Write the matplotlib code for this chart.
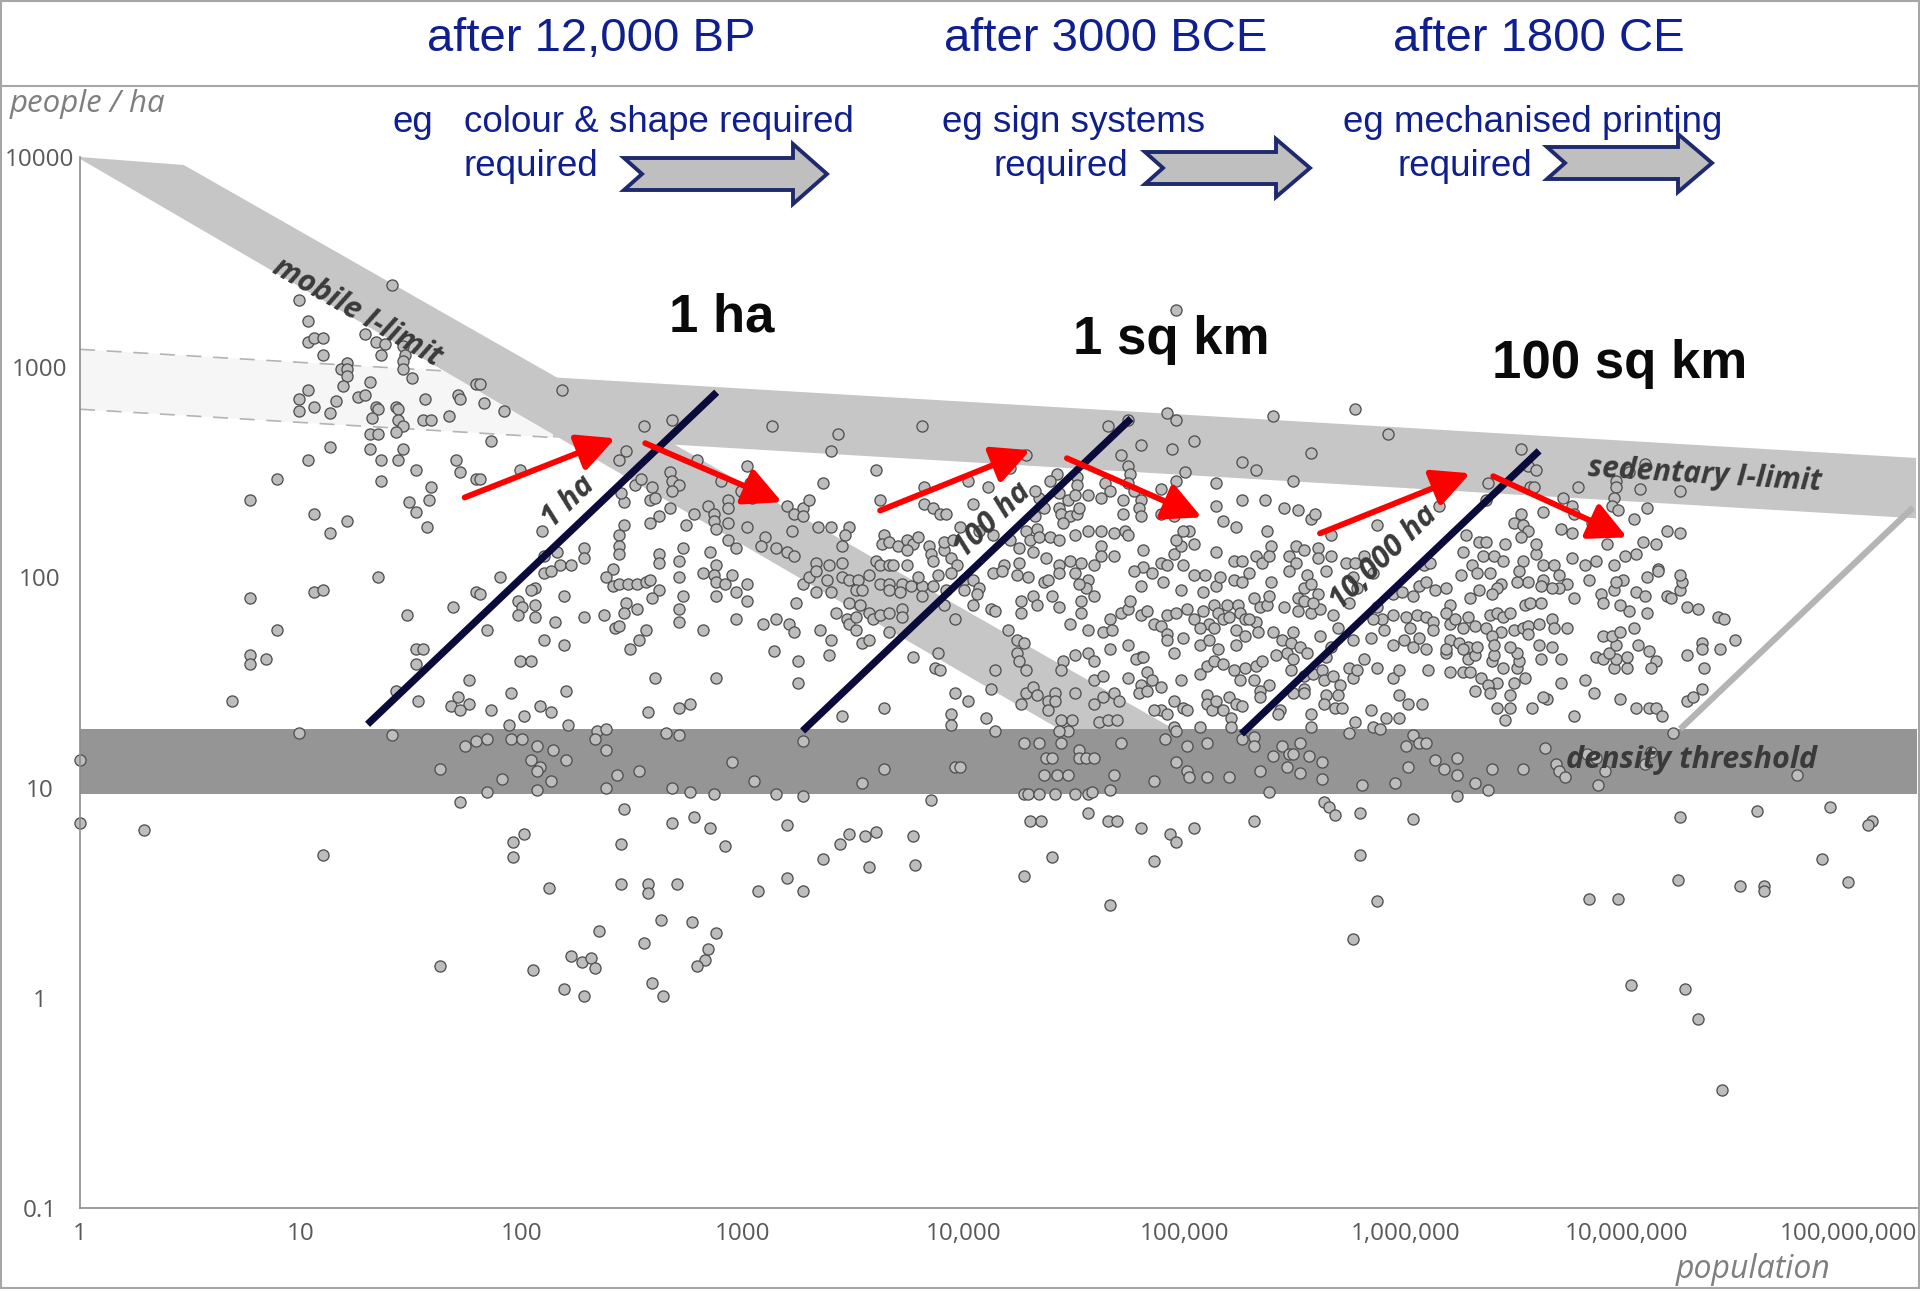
import numpy as np
import matplotlib
matplotlib.use("Agg")
import matplotlib.pyplot as plt
from matplotlib.patches import Polygon
from matplotlib.lines import Line2D
from matplotlib.ticker import NullLocator

W, H = 1920, 1292

# sites as (log10 population, log10 people per ha)
small_sites = [
    (0.99, 3.32), (1.41, 3.39), (1.03, 3.22), (1.03, 3.12), (1.06, 3.14), (1.10, 3.14), (1.10, 3.06),
    (1.29, 3.16), (1.34, 3.12), (1.38, 3.11), (1.36, 3.06), (1.46, 3.10), (1.47, 3.06), (1.46, 3.03),
    (1.46, 2.99), (1.50, 2.95), (1.21, 3.02), (1.18, 2.99), (1.21, 2.99), (1.21, 2.96), (1.19, 2.91),
    (1.31, 2.93), (1.26, 2.86), (1.29, 2.87), (1.03, 2.89), (0.99, 2.85), (1.06, 2.81), (1.16, 2.84),
    (0.99, 2.79), (1.13, 2.78), (1.34, 2.81), (1.35, 2.80), (1.43, 2.81), (1.44, 2.80), (1.32, 2.76),
    (1.44, 2.75), (1.46, 2.72), (1.43, 2.69), (1.31, 2.68), (1.35, 2.68), (1.56, 2.85), (1.55, 2.75),
    (1.59, 2.75), (1.67, 2.77), (1.71, 2.87), (1.72, 2.85), (1.79, 2.92), (1.13, 2.62), (1.31, 2.61),
    (1.46, 2.61), (1.03, 2.56), (1.36, 2.56), (1.44, 2.56), (1.52, 2.51), (1.70, 2.56), (1.72, 2.50),
    (1.79, 2.47), (0.89, 2.47), (1.36, 2.46), (1.59, 2.43), (0.77, 2.37), (1.49, 2.36), (1.58, 2.37),
    (1.06, 2.30), (1.52, 2.31), (1.21, 2.27), (1.13, 2.21), (1.57, 2.24),
    (1.35, 2.00), (0.77, 1.90), (1.06, 1.93), (1.10, 1.94), (1.79, 1.93), (1.69, 1.86), (1.48, 1.82),
    (0.89, 1.75), (0.77, 1.63), (0.77, 1.59), (0.84, 1.61), (1.52, 1.66), (1.55, 1.66), (1.52, 1.59),
    (1.76, 1.51), (1.43, 1.46), (1.53, 1.41), (1.71, 1.43), (1.68, 1.39), (1.76, 1.40), (1.72, 1.37),
    (0.69, 1.41), (0.99, 1.26), (1.41, 1.25), (1.74, 1.20), (1.79, 1.22), (0.00, 1.13), (1.63, 1.09),
    (1.72, 0.93), (0.00, 0.83), (0.29, 0.80), (1.10, 0.68), (1.63, 0.15),
]

village_sites = [
    (1.81, 2.92), (1.83, 2.83), (1.92, 2.79), (2.18, 2.89), (1.86, 2.65), (1.99, 2.51), (1.81, 2.47),
    (2.09, 2.22), (2.16, 2.12), (2.17, 2.06), (2.10, 2.10), (2.22, 2.06), (2.28, 2.14), (2.28, 2.09),
    (2.41, 2.04), (2.44, 2.20), (2.44, 2.15), (2.44, 2.11), (2.46, 2.25), (2.46, 2.36), (2.45, 2.40),
    (2.51, 2.44), (2.54, 2.47), (2.55, 2.72), (2.68, 2.75), (2.47, 2.60), (2.44, 2.56), (2.59, 2.43),
    (2.58, 2.37), (2.60, 2.38), (2.67, 2.50), (2.68, 2.46), (2.71, 2.44), (2.68, 2.41), (2.67, 2.33),
    (2.62, 2.29), (2.58, 2.26), (2.62, 2.11), (2.62, 2.07), (2.71, 2.08), (2.73, 2.14), (2.74, 2.25),
    (2.78, 2.30), (2.79, 2.56), (2.84, 2.34), (2.87, 2.30), (2.87, 2.27), (2.88, 2.23), (2.93, 2.37),
    (2.93, 2.33), (2.93, 2.26), (2.93, 2.18), (2.85, 2.12), (2.88, 2.06), (2.97, 2.14), (3.02, 2.24),
    (2.99, 2.41), (3.04, 2.38), (3.03, 2.45), (3.02, 2.53), (2.90, 2.46), (3.10, 2.19), (3.08, 2.15),
    (3.15, 2.14), (3.20, 2.12), (3.23, 2.10), (3.13, 2.72), (3.20, 2.34), (3.23, 2.30), (3.27, 2.33),
    (3.30, 2.37), (3.27, 2.29), (3.22, 2.22), (3.34, 2.24), (3.40, 2.24), (3.48, 2.24), (3.46, 2.20),
    (3.36, 2.45), (3.40, 2.60), (3.43, 2.68), (3.60, 2.51), (3.62, 2.37), (3.81, 2.72), (3.82, 2.43),
    (3.82, 2.35), (3.86, 2.33), (3.89, 2.30), (3.92, 2.30), (3.45, 2.15), (3.45, 2.07), (3.33, 2.07),
    (3.39, 2.06), (3.64, 2.20), (3.63, 2.16), (3.66, 2.17), (3.70, 2.15), (3.74, 2.18), (3.77, 2.16),
    (3.79, 2.19), (3.84, 2.15), (3.74, 2.13), (3.85, 2.11), (3.91, 2.13), (3.91, 2.17), (3.95, 2.18),
    (3.60, 2.08), (3.62, 2.06), (3.66, 2.06), (3.68, 2.06), (3.74, 2.06), (3.86, 2.08), (3.94, 2.09),
    (3.97, 2.06),
    (1.90, 2.00), (2.10, 2.02), (2.13, 2.03), (1.81, 1.92), (2.19, 1.91), (2.06, 1.95), (2.04, 1.94),
    (1.98, 1.89), (2.00, 1.86), (2.06, 1.87), (1.98, 1.82), (2.06, 1.81), (2.15, 1.79), (1.84, 1.75),
    (2.10, 1.70), (2.19, 1.68), (1.99, 1.60), (2.04, 1.60), (2.28, 1.81), (2.37, 1.82), (2.38, 2.00),
    (2.41, 1.96), (2.44, 1.97), (2.48, 1.97), (2.52, 1.97), (2.56, 1.98), (2.58, 1.99), (2.62, 1.94),
    (2.59, 1.90), (2.47, 1.88), (2.46, 1.83), (2.52, 1.85), (2.42, 1.76), (2.44, 1.77), (2.56, 1.75),
    (2.53, 1.70), (2.49, 1.66), (2.60, 1.52), (2.71, 2.00), (2.73, 1.91), (2.71, 1.85), (2.71, 1.79),
    (2.82, 1.75), (2.82, 2.02), (2.87, 2.01), (2.88, 1.98), (2.92, 1.97), (2.95, 2.01), (3.02, 1.97),
    (2.97, 1.93), (3.02, 1.89), (2.88, 1.91), (2.97, 1.80), (3.09, 1.78), (3.15, 1.80), (3.21, 1.78),
    (3.23, 1.74), (3.24, 1.88), (3.27, 1.97), (3.30, 2.00), (3.33, 2.03), (3.33, 1.93), (3.38, 1.99),
    (3.40, 1.93), (3.35, 1.75), (3.40, 1.70), (3.39, 1.63), (3.25, 1.60), (3.25, 1.50), (3.14, 1.65),
    (2.88, 1.52), (3.45, 2.00), (3.48, 1.99), (3.52, 1.99), (3.57, 2.01), (3.51, 1.94), (3.54, 1.94),
    (3.62, 1.97), (3.66, 1.97), (3.72, 1.97), (3.76, 1.96), (3.66, 1.94), (3.71, 1.93), (3.81, 1.96),
    (3.86, 1.96), (3.92, 1.94), (3.81, 1.91), (3.88, 2.01), (3.94, 2.02), (3.79, 2.00), (3.42, 1.83),
    (3.47, 1.80), (3.48, 1.78), (3.51, 1.81), (3.51, 1.75), (3.48, 1.88), (3.53, 1.87), (3.57, 1.83),
    (3.59, 1.80), (3.62, 1.82), (3.66, 1.83), (3.72, 1.85), (3.72, 1.81), (3.54, 1.69), (3.57, 1.70),
    (3.66, 1.74), (3.91, 1.87), (3.96, 1.80), (3.77, 1.62), (3.88, 1.64), (3.87, 1.57), (3.89, 1.56),
    (3.96, 1.45), (3.94, 1.35), (3.94, 1.30), (3.64, 1.38), (3.45, 1.34), (1.95, 1.45), (2.20, 1.46),
    (1.86, 1.37), (2.01, 1.34), (2.08, 1.39), (2.13, 1.36), (1.94, 1.30), (2.21, 1.30), (2.57, 1.36),
    (2.71, 1.38), (2.76, 1.40),
    (1.84, 1.23), (1.95, 1.23), (2.00, 1.23), (2.07, 1.20), (2.14, 1.18), (2.04, 1.13), (2.20, 1.13),
    (2.08, 1.10), (2.07, 1.08), (2.13, 1.03), (2.07, 0.99), (1.91, 1.04), (1.84, 0.98), (2.34, 1.27),
    (2.38, 1.28), (2.33, 1.23), (2.38, 1.18), (2.43, 1.06), (2.53, 1.08), (2.38, 1.00), (2.65, 1.26),
    (2.71, 1.25), (2.68, 1.00), (2.76, 0.98), (2.87, 0.97), (2.95, 1.12), (3.05, 1.03), (3.15, 0.97),
    (3.27, 0.96), (3.27, 1.22), (3.54, 1.02), (3.64, 1.09), (3.96, 1.10),
    (2.46, 0.90), (2.68, 0.83), (2.78, 0.86), (2.85, 0.81), (2.45, 0.73), (2.92, 0.72), (3.20, 0.82),
    (3.48, 0.78), (3.44, 0.73), (3.55, 0.77), (3.60, 0.79), (3.77, 0.77), (3.36, 0.66), (3.57, 0.62),
    (3.78, 0.63), (3.85, 0.94), (2.01, 0.78), (1.96, 0.74), (1.96, 0.67),
    (2.12, 0.52), (2.45, 0.54), (2.57, 0.54), (2.57, 0.50), (2.70, 0.54), (3.07, 0.51), (3.20, 0.57),
    (3.27, 0.51), (2.63, 0.37), (2.77, 0.36), (2.88, 0.31), (2.35, 0.32), (2.55, 0.26), (2.84, 0.23),
    (2.83, 0.18), (2.79, 0.15), (2.22, 0.20), (2.27, 0.17), (2.31, 0.19), (2.33, 0.14), (2.05, 0.13),
    (2.19, 0.04), (2.28, 0.01), (2.59, 0.07), (2.64, 0.01),
]

town_sites = [
    (4.96, 3.27), (4.92, 2.78), (4.96, 2.75), (4.74, 2.75), (4.65, 2.72), (5.40, 2.77), (5.77, 2.80),
    (5.92, 2.68), (4.80, 2.63), (4.94, 2.61), (5.04, 2.65), (4.71, 2.58), (5.57, 2.59), (5.26, 2.55),
    (5.32, 2.51), (4.28, 2.58), (4.21, 2.52), (5.00, 2.50), (4.96, 2.46), (5.49, 2.46), (4.74, 2.53),
    (4.75, 2.49), (4.89, 2.42), (5.14, 2.45), (4.64, 2.45), (4.66, 2.41), (4.62, 2.38), (4.74, 2.45),
    (4.77, 2.41), (4.72, 2.37), (4.80, 2.37), (4.72, 2.30), (4.79, 2.33), (4.80, 2.29), (4.89, 2.30),
    (4.95, 2.29), (4.42, 2.49), (4.39, 2.46), (4.51, 2.48), (4.51, 2.44), (4.43, 2.40), (4.47, 2.37),
    (4.43, 2.33), (4.50, 2.39), (4.56, 2.39), (4.44, 2.30), (4.48, 2.29), (4.45, 2.26), (4.51, 2.30),
    (4.52, 2.33), (4.36, 2.33), (4.34, 2.38), (4.32, 2.41), (4.32, 2.29), (4.33, 2.23), (4.28, 2.22),
    (4.30, 2.18), (4.34, 2.19), (4.39, 2.19), (4.43, 2.18), (4.50, 2.20), (4.56, 2.22), (4.62, 2.22),
    (4.68, 2.21), (4.73, 2.22), (4.74, 2.20), (4.62, 2.15), (4.68, 2.10), (4.81, 2.13), (4.89, 2.07),
    (4.95, 2.11), (4.98, 2.15), (4.96, 2.18), (5.02, 2.22), (5.04, 2.16), (4.99, 2.22), (5.14, 2.34),
    (5.17, 2.27), (5.23, 2.24), (5.26, 2.37), (5.36, 2.37), (5.45, 2.33), (5.51, 2.32), (5.57, 2.28),
    (5.59, 2.30), (5.37, 2.22), (5.66, 2.20), (5.87, 2.25), (5.39, 2.15), (5.50, 2.15), (5.54, 2.13),
    (5.60, 2.14), (5.14, 2.12), (5.22, 2.08), (5.26, 2.08), (5.32, 2.10), (5.35, 2.07), (5.38, 2.10),
    (5.47, 2.10), (5.50, 2.07), (5.60, 2.09), (5.66, 2.10), (5.73, 2.07), (5.77, 2.07), (5.81, 2.10),
    (6.08, 2.06), (6.11, 2.07), (4.04, 2.35), (4.11, 2.43), (4.02, 2.46), (3.98, 2.24), (4.07, 2.22),
    (4.13, 2.20), (4.21, 2.18), (4.25, 2.14), (4.31, 2.12), (4.37, 2.09), (4.18, 2.06), (4.25, 2.07),
    (4.43, 2.06), (4.48, 2.08), (4.53, 2.07), (4.59, 2.06), (4.62, 2.10), (4.81, 2.05), (4.92, 2.06),
    (4.99, 2.06),
    (4.00, 1.99), (4.04, 1.99), (4.07, 1.95), (4.13, 2.02), (4.17, 2.03), (4.24, 2.01), (4.29, 2.00),
    (4.36, 1.98), (4.38, 1.99), (4.43, 2.02), (4.50, 2.02), (4.56, 1.99), (4.55, 1.95), (4.59, 1.91),
    (4.52, 1.97), (4.77, 2.03), (4.80, 1.96), (4.85, 2.02), (4.90, 1.98), (4.98, 1.94), (5.04, 2.01),
    (5.09, 2.01), (5.14, 1.96), (5.16, 2.00), (5.22, 1.99), (5.26, 1.98), (5.29, 2.02), (5.39, 1.98),
    (5.47, 2.03), (5.55, 2.01), (5.54, 1.95), (5.57, 1.97), (5.51, 1.90), (5.60, 1.92), (5.64, 2.03),
    (5.76, 2.00), (5.85, 2.02), (5.94, 1.92), (5.98, 1.93), (6.06, 1.96), (6.09, 1.98), (6.13, 1.94),
    (6.03, 1.91),
    (4.00, 1.94), (4.06, 1.92), (4.04, 1.87), (4.12, 1.85), (4.14, 1.84), (4.26, 1.89), (4.26, 1.83),
    (4.31, 1.91), (4.33, 1.87), (4.40, 1.91), (4.43, 1.86), (4.53, 1.89), (4.53, 1.83), (4.71, 1.83),
    (4.74, 1.85), (4.75, 1.89), (4.80, 1.82), (4.83, 1.84), (4.92, 1.82), (4.96, 1.83), (5.01, 1.85),
    (5.08, 1.93), (5.04, 1.80), (5.08, 1.84), (5.13, 1.87), (5.11, 1.78), (5.15, 1.83), (5.17, 1.80),
    (5.19, 1.87), (5.24, 1.87), (5.20, 1.81), (5.25, 1.83), (5.27, 1.80), (5.31, 1.90), (5.34, 1.86),
    (5.37, 1.87), (5.38, 1.91), (5.32, 1.79), (5.45, 1.86), (5.51, 1.84), (5.54, 1.89), (5.57, 1.83),
    (5.61, 1.85), (5.58, 1.88), (5.67, 1.82), (5.74, 1.88), (5.78, 1.95), (5.87, 1.86), (5.89, 1.80),
    (5.94, 1.82), (6.00, 1.81), (6.05, 1.82), (6.09, 1.81), (6.12, 1.79),
    (4.20, 1.75), (4.24, 1.70), (4.27, 1.69), (4.24, 1.64), (4.48, 1.78), (4.56, 1.75), (4.63, 1.74),
    (4.66, 1.80), (4.67, 1.75), (4.74, 1.68), (4.66, 1.66), (4.80, 1.62), (4.86, 1.78), (4.89, 1.77),
    (4.92, 1.73), (4.92, 1.70), (4.99, 1.71), (4.95, 1.64), (5.07, 1.76), (5.07, 1.68), (5.11, 1.70),
    (5.15, 1.66), (5.13, 1.76), (5.23, 1.75), (5.27, 1.72), (5.23, 1.68), (5.29, 1.80), (5.33, 1.74),
    (5.40, 1.74), (5.44, 1.70), (5.48, 1.69), (5.49, 1.74), (5.52, 1.67), (5.46, 1.64), (5.41, 1.63),
    (5.55, 1.64), (5.61, 1.72), (5.66, 1.67), (5.69, 1.76), (5.76, 1.70), (5.84, 1.71), (5.90, 1.75),
    (5.85, 1.80), (5.94, 1.68), (5.99, 1.70), (6.03, 1.67), (6.09, 1.66), (6.12, 1.75), (6.06, 1.71),
    (6.02, 1.76),
    (4.14, 1.56), (4.25, 1.60), (4.28, 1.56), (4.45, 1.60), (4.50, 1.63), (4.56, 1.64), (4.59, 1.60),
    (4.44, 1.56), (4.59, 1.51), (4.63, 1.53), (4.74, 1.52), (4.83, 1.55), (4.85, 1.51), (4.89, 1.48),
    (4.78, 1.61), (4.81, 1.62), (4.80, 1.49), (4.98, 1.51), (5.07, 1.54), (5.10, 1.58), (5.13, 1.60),
    (5.17, 1.59), (5.22, 1.56), (5.25, 1.51), (5.27, 1.57), (5.32, 1.58), (5.31, 1.51), (5.35, 1.60),
    (5.49, 1.61), (5.48, 1.56), (5.54, 1.53), (5.58, 1.54), (5.62, 1.56), (5.64, 1.62), (5.63, 1.51),
    (5.67, 1.53), (5.70, 1.49), (5.74, 1.57), (5.76, 1.52), (5.78, 1.56), (5.81, 1.61), (5.87, 1.57),
    (5.94, 1.52), (5.97, 1.56), (6.10, 1.56), (5.49, 1.45), (5.54, 1.47), (5.38, 1.49), (5.34, 1.46),
    (4.12, 1.47), (4.02, 1.41), (4.10, 1.33), (4.14, 1.27), (4.26, 1.40), (4.28, 1.45), (4.31, 1.48),
    (4.33, 1.44), (4.38, 1.41), (4.41, 1.45), (4.38, 1.37), (4.41, 1.41), (4.50, 1.45), (4.59, 1.40),
    (4.63, 1.43), (4.68, 1.45), (4.70, 1.41), (4.61, 1.31), (4.65, 1.32), (4.69, 1.32), (4.44, 1.32),
    (4.49, 1.32), (4.47, 1.27), (4.43, 1.27), (4.79, 1.45), (4.83, 1.46), (4.89, 1.37), (4.86, 1.37),
    (4.92, 1.35), (4.95, 1.41), (4.99, 1.38), (5.01, 1.37), (5.07, 1.29), (5.10, 1.44), (5.10, 1.40),
    (5.12, 1.37), (5.14, 1.41), (5.17, 1.37), (5.20, 1.43), (5.23, 1.40), (5.21, 1.33), (5.21, 1.29),
    (5.26, 1.39), (5.34, 1.43), (5.43, 1.37), (5.42, 1.35), (5.54, 1.45), (5.57, 1.35), (5.57, 1.29),
    (5.64, 1.44), (5.63, 1.40), (5.69, 1.44), (5.68, 1.38), (5.71, 1.38), (5.77, 1.31), (5.74, 1.26),
    (5.84, 1.37), (5.91, 1.33), (5.97, 1.33), (5.97, 1.44), (6.01, 1.40), (6.07, 1.40), (5.85, 1.29),
    (5.88, 1.28), (4.95, 1.29), (4.96, 1.27),
    (4.27, 1.21), (4.34, 1.21), (4.44, 1.21), (4.37, 1.14), (4.40, 1.14), (4.52, 1.18), (4.52, 1.14),
    (4.55, 1.14), (4.59, 1.14), (4.36, 1.06), (4.42, 1.06), (4.47, 1.06), (4.68, 1.06), (4.71, 1.21),
    (4.86, 1.03), (4.91, 1.23), (4.96, 1.12), (5.01, 1.20), (5.01, 1.08), (5.02, 1.05), (5.10, 1.21),
    (5.10, 1.05), (5.20, 1.05), (5.26, 1.23), (5.31, 1.24), (5.31, 1.20), (5.40, 1.15), (5.34, 1.08),
    (5.44, 1.20), (5.47, 1.16), (5.49, 1.16), (5.46, 1.10), (5.52, 1.21), (5.56, 1.15), (5.52, 1.07),
    (5.62, 1.12), (5.62, 1.04), (5.80, 1.01), (5.95, 1.02), (6.00, 1.20), (6.01, 1.10), (6.03, 1.25),
    (6.06, 1.21), (6.09, 1.21), (6.13, 1.13), (4.27, 0.97), (4.29, 0.97), (4.34, 0.97), (4.41, 0.97),
    (4.50, 0.97), (4.56, 0.97), (4.58, 0.98), (4.66, 0.99), (5.38, 0.98), (3.98, 1.10),
    (4.30, 0.84), (4.35, 0.84), (4.56, 0.88), (4.65, 0.84), (4.69, 0.84), (4.80, 0.81), (4.93, 0.78),
    (4.96, 0.74), (5.04, 0.81), (5.31, 0.84), (5.63, 0.93), (5.65, 0.91), (5.68, 0.87), (5.79, 0.88),
    (6.03, 0.85), (4.40, 0.67), (4.86, 0.65), (5.79, 0.68),
    (4.27, 0.58), (4.66, 0.44), (5.87, 0.46), (5.76, 0.28),
]

city_sites = [
    (6.52, 2.61), (6.55, 2.53), (6.59, 2.51), (6.37, 2.45), (6.36, 2.37), (6.56, 2.43), (6.58, 2.43),
    (6.15, 2.34), (6.78, 2.43), (6.95, 2.46), (6.95, 2.43), (7.06, 2.42), (7.24, 2.41), (7.08, 2.54),
    (7.01, 2.50), (6.94, 2.38), (6.93, 2.34), (6.96, 2.32), (7.03, 2.28), (7.09, 2.33), (6.71, 2.38),
    (6.75, 2.34), (6.76, 2.30), (6.84, 2.26), (6.89, 2.23), (6.62, 2.31), (6.52, 2.30), (6.49, 2.26),
    (6.53, 2.25), (6.55, 2.22), (6.52, 2.19), (6.27, 2.20), (6.33, 2.17), (6.36, 2.17), (6.45, 2.16),
    (6.26, 2.12), (6.35, 2.10), (6.40, 2.10), (6.44, 2.08), (6.30, 2.06), (6.53, 2.08), (6.59, 2.11),
    (6.59, 2.16), (6.70, 2.23), (6.75, 2.21), (6.91, 2.16), (7.07, 2.17), (7.13, 2.16), (7.18, 2.22),
    (7.24, 2.21), (7.04, 2.11), (6.99, 2.10), (6.94, 2.06), (6.86, 2.08), (6.81, 2.06), (6.75, 2.09),
    (6.62, 2.06), (6.67, 2.06), (7.14, 2.04),
    (6.45, 1.32), (6.76, 1.34), (6.57, 1.38), (6.41, 1.38), (6.47, 1.38), (6.47, 1.44), (6.64, 1.42),
    (6.62, 1.43), (6.85, 1.45), (6.97, 1.42), (7.04, 1.38), (7.10, 1.38), (7.13, 1.38), (7.16, 1.34),
    (7.27, 1.41), (7.30, 1.43), (7.34, 1.47), (6.81, 1.51), (6.70, 1.50), (6.49, 1.50), (6.54, 1.52),
    (6.41, 1.50), (6.34, 1.52), (6.37, 1.49), (6.31, 1.46), (6.38, 1.45), (6.20, 1.55), (6.26, 1.55),
    (6.29, 1.55), (6.44, 1.57), (6.50, 1.57), (6.51, 1.60), (6.61, 1.61), (6.70, 1.61), (6.39, 1.60),
    (6.28, 1.61), (6.18, 1.64), (6.31, 1.63), (6.40, 1.63), (6.50, 1.64), (6.47, 1.67), (6.60, 1.68),
    (6.66, 1.67), (6.86, 1.62), (6.89, 1.61), (6.94, 1.57), (7.00, 1.57), (6.95, 1.61), (7.00, 1.62),
    (6.92, 1.64), (6.95, 1.68), (6.89, 1.72), (6.93, 1.72), (6.97, 1.74), (7.05, 1.68), (7.10, 1.65),
    (7.13, 1.60), (7.11, 1.57), (7.03, 1.76), (7.09, 1.83), (7.01, 1.84), (6.97, 1.87), (7.27, 1.63),
    (7.35, 1.57), (7.34, 1.69), (7.34, 1.66), (7.42, 1.66), (7.49, 1.70), (7.41, 1.81), (7.44, 1.80),
    (7.27, 1.86), (7.32, 1.85), (7.24, 1.94), (7.25, 1.98), (7.24, 2.01), (7.14, 2.03), (7.09, 2.00),
    (7.04, 1.93), (7.08, 1.91), (7.18, 1.91), (7.20, 1.90), (6.98, 1.99), (6.94, 1.94), (6.95, 1.98),
    (6.88, 1.92), (6.89, 1.88), (6.83, 1.99), (6.76, 1.90), (6.73, 1.97), (6.69, 1.95), (6.66, 1.95),
    (6.69, 2.01), (6.62, 1.99), (6.61, 1.96), (6.55, 1.98), (6.50, 1.98), (6.51, 2.03), (6.43, 1.97),
    (6.41, 1.95), (6.39, 1.92), (6.33, 1.94), (6.29, 1.90), (6.25, 2.01), (6.32, 2.02), (6.38, 2.02),
    (6.18, 1.95), (6.20, 1.87), (6.18, 1.83), (6.20, 1.78), (6.22, 1.80), (6.28, 1.81), (6.26, 1.76),
    (6.31, 1.77), (6.36, 1.76), (6.38, 1.82), (6.41, 1.83), (6.44, 1.81), (6.47, 1.83), (6.43, 1.74),
    (6.39, 1.72), (6.40, 1.68), (6.49, 1.75), (6.53, 1.76), (6.55, 1.77), (6.60, 1.78), (6.55, 1.73),
    (6.66, 1.80), (6.67, 1.76), (6.73, 1.76), (6.54, 1.87), (6.56, 1.88), (6.61, 1.88), (6.20, 1.70),
    (6.24, 1.69), (6.28, 1.67), (6.32, 1.67), (6.18, 1.66), (6.26, 1.66),
    (6.63, 1.19), (6.23, 1.14), (6.17, 1.09), (6.23, 1.06), (6.31, 1.02), (6.37, 0.99), (6.23, 0.96),
    (6.39, 1.09), (6.53, 1.09), (6.68, 1.11), (6.69, 1.08), (6.72, 1.05), (6.82, 1.16), (6.86, 1.14),
    (6.90, 1.08), (6.87, 1.01), (7.11, 1.17), (7.08, 1.11), (7.21, 1.26), (7.77, 1.06),
    (7.24, 0.86), (7.59, 0.89), (7.92, 0.91), (8.11, 0.84), (8.09, 0.82), (7.88, 0.66),
    (6.83, 0.47), (6.96, 0.47), (7.23, 0.56), (7.51, 0.53), (7.62, 0.53), (7.62, 0.51), (8.00, 0.55),
    (7.02, 0.06), (7.26, 0.04), (7.32, -0.10), (7.43, -0.44),
]

# limit bands: (population, people/ha) corners
mobile_lower = [(1, 9800), (26900, 19)]
mobile_upper = [(2.95, 9160), (89000, 19)]
sedentary_start = 138
sedentary_end = 2.03e8
sedentary_top = [(1, 1216), (sedentary_start, 895), (sedentary_end, 370)]
sedentary_bottom = [(1, 631), (sedentary_start, 463), (sedentary_end, 191)]
threshold_low, threshold_high = 9.3, 19
sedentary_edge = [(1.97e8, 215), (1.74e7, 19)]

# settlement area lines (ha) with the population range each covers
areas = [1, 100, 10000]
area_labels = ["1 ha", "100 ha", "10,000 ha"]
area_pop_ranges = [(20, 760), (1860, 57000), (180000, 4.0e6)]
area_label_pos = [(163, 228), (13400, 187), (7.9e5, 124)]

# red shift arrows: (tail, head) in (population, people/ha)
shift_arrows = [
    ((55, 240), (264, 459)), ((361, 435), (1500, 228)),
    ((4170, 208), (19900, 403)), ((29200, 369), (119000, 193)),
    ((4.08e5, 162), (1.95e6, 313)), ((2.48e6, 303), (1.0e7, 155)),
]

xticks = [1, 10, 100, 1000, 1e4, 1e5, 1e6, 1e7, 1e8]
xlabels = ["1", "10", "100", "1000", "10,000", "100,000", "1,000,000", "10,000,000", "100,000,000"]
yticks = [0.1, 1, 10, 100, 1000, 10000]
ylabels = ["0.1", "1", "10", "100", "1000", "10000"]

NAVY = "#0f1f8f"
BAND = "#c6c6c6"


def fx(px):
    return px / W


def fy(py):
    return 1 - py / H


fig = plt.figure(figsize=(W / 100, H / 100), dpi=100)
ax = fig.add_axes([fx(80), fy(1208), fx(1917 - 80), (1208 - 157) / H])
ax.set_xscale("log")
ax.set_yscale("log")
ax.set_xlim(1, 10 ** 8.312)
ax.set_ylim(0.1, 10000)

# light dashed continuation of the sedentary band
dash_poly = [sedentary_top[0], sedentary_top[1], sedentary_bottom[1], sedentary_bottom[0]]
ax.add_patch(Polygon(dash_poly, closed=True, facecolor="#f6f6f6", edgecolor="none", zorder=1))
for edge in (sedentary_top, sedentary_bottom):
    ax.plot([edge[0][0], edge[1][0]], [edge[0][1], edge[1][1]], color="#b4b4b4",
            lw=1.2, ls=(0, (9, 7)), zorder=1.1)

sed_poly = [sedentary_top[1], sedentary_top[2], sedentary_bottom[2], sedentary_bottom[1]]
ax.add_patch(Polygon(sed_poly, closed=True, facecolor=BAND, edgecolor="none", zorder=1.2))
mob_poly = [(1, 10000), mobile_upper[0], mobile_upper[1], mobile_lower[1], mobile_lower[0]]
ax.add_patch(Polygon(mob_poly, closed=True, facecolor=BAND, edgecolor="none", zorder=1.2))
ax.axhspan(threshold_low, threshold_high, color="#959595", lw=0, zorder=1.3)
ax.plot([p[0] for p in sedentary_edge], [p[1] for p in sedentary_edge],
        color="#b4b4b4", lw=4.5, solid_capstyle="butt", zorder=1.3)

# sites
for group in (small_sites, village_sites, town_sites, city_sites):
    arr = np.array(group)
    ax.scatter(10 ** arr[:, 0], 10 ** arr[:, 1], s=64, facecolor="#bdbdbd",
               edgecolor="#505050", linewidths=0.95, zorder=2, clip_on=False)

# band labels
band_font = dict(family="Open Sans", style="italic", weight="bold", color="#3a3a3a",
                 ha="center", va="center", rotation_mode="anchor", zorder=3)
ax.text(18, 1820, "mobile I-limit", fontsize=21.5, rotation=-30, **band_font)
ax.text(2.24e7, 306, "sedentary I-limit", fontsize=21.5, rotation=-3.5, **band_font)
ax.text(1.95e7, 13.5, "density threshold", fontsize=22, rotation=0, **band_font)

# settlement area lines
for area, (p0, p1), lab, lpos in zip(areas, area_pop_ranges, area_labels, area_label_pos):
    ax.plot([p0, p1], [p0 / area, p1 / area], color="#0b0b3b", lw=5.2,
            solid_capstyle="butt", zorder=4)
    ax.text(lpos[0], lpos[1], lab, fontsize=22, rotation=44, **band_font)

for tail, head in shift_arrows:
    ax.annotate("", xy=head, xytext=tail, zorder=5,
                arrowprops=dict(arrowstyle="-|>,head_length=0.6,head_width=0.3",
                                mutation_scale=38, color="#ff0000", lw=4.2,
                                shrinkA=0, shrinkB=0))

big_font = dict(family="Liberation Sans", weight="bold", color="#0a0a0a",
                fontsize=38, ha="center", va="center")
ax.text(804, 1730, "1 ha", **big_font)
ax.text(86500, 1340, "1 sq km", **big_font)
ax.text(9.29e6, 1040, "100 sq km", **big_font)

# axes styling
for side in ("top", "right"):
    ax.spines[side].set_visible(False)
for side in ("left", "bottom"):
    ax.spines[side].set_color("#8c8c8c")
    ax.spines[side].set_linewidth(1.2)
ax.set_xticks(xticks, xlabels)
ax.set_yticks(yticks, ylabels)
ax.xaxis.set_minor_locator(NullLocator())
ax.yaxis.set_minor_locator(NullLocator())
ax.tick_params(length=0, colors="#595959", labelsize=17.5)
ax.tick_params(axis="x", pad=10)
ax.tick_params(axis="y", pad=29)
for lbl in ax.get_yticklabels() + ax.get_xticklabels():
    lbl.set_family("Open Sans")
for lbl in ax.get_yticklabels():
    lbl.set_ha("center")

fig.text(fx(10), fy(104), "people / ha", family="Open Sans", style="italic",
         fontsize=22.5, color="#7f7f7f", ha="left", va="center")
fig.text(fx(1753), fy(1269), "population", family="Open Sans", style="italic",
         fontsize=23, color="#7f7f7f", ha="center", va="center")

# header
head_font = dict(family="Liberation Sans", color=NAVY, va="center")
fig.text(fx(591), fy(39), "after 12,000 BP", fontsize=34, ha="center", **head_font)
fig.text(fx(1106), fy(39), "after 3000 BCE", fontsize=34, ha="center", **head_font)
fig.text(fx(1539), fy(39), "after 1800 CE", fontsize=34, ha="center", **head_font)
fig.text(fx(392), fy(123), "eg", fontsize=26.5, ha="left", **head_font)
fig.text(fx(464), fy(123), "colour & shape required", fontsize=26.5, ha="left", **head_font)
fig.text(fx(464), fy(167), "required", fontsize=26.5, ha="left", **head_font)
fig.text(fx(942), fy(123), "eg sign systems", fontsize=26.5, ha="left", **head_font)
fig.text(fx(993), fy(167), "required", fontsize=26.5, ha="left", **head_font)
fig.text(fx(1343), fy(123), "eg mechanised printing", fontsize=26.5, ha="left", **head_font)
fig.text(fx(1398), fy(167), "required", fontsize=26.5, ha="left", **head_font)


def block_arrow(x0, x1, yc, big=30, small=16, head=34, notch=18):
    pts = [(x0, yc - small), (x1 - head, yc - small), (x1 - head, yc - big), (x1, yc),
           (x1 - head, yc + big), (x1 - head, yc + small), (x0, yc + small), (x0 + notch, yc)]
    poly = Polygon([(fx(px), fy(py)) for px, py in pts], closed=True,
                   transform=fig.transFigure, facecolor="#bfbfbf", edgecolor="#1f2a6e",
                   lw=2.8, joinstyle="miter")
    fig.patches.append(poly)


block_arrow(624, 827, 174)
block_arrow(1145, 1310, 168, big=29)
block_arrow(1547, 1712, 163, big=29)

# frame
frame = dict(color="#a6a6a6", lw=1.5, transform=fig.transFigure)
fig.lines.append(Line2D([fx(1), fx(1)], [fy(1), fy(1288)], **frame))
fig.lines.append(Line2D([fx(1), fx(1919)], [fy(1), fy(1)], **frame))
fig.lines.append(Line2D([fx(1), fx(1919)], [fy(1288), fy(1288)], **frame))
fig.lines.append(Line2D([fx(1919), fx(1919)], [fy(1), fy(1288)], **frame))
fig.lines.append(Line2D([fx(1), fx(1919)], [fy(86), fy(86)], **frame))

fig.savefig("out.png", dpi=100)
